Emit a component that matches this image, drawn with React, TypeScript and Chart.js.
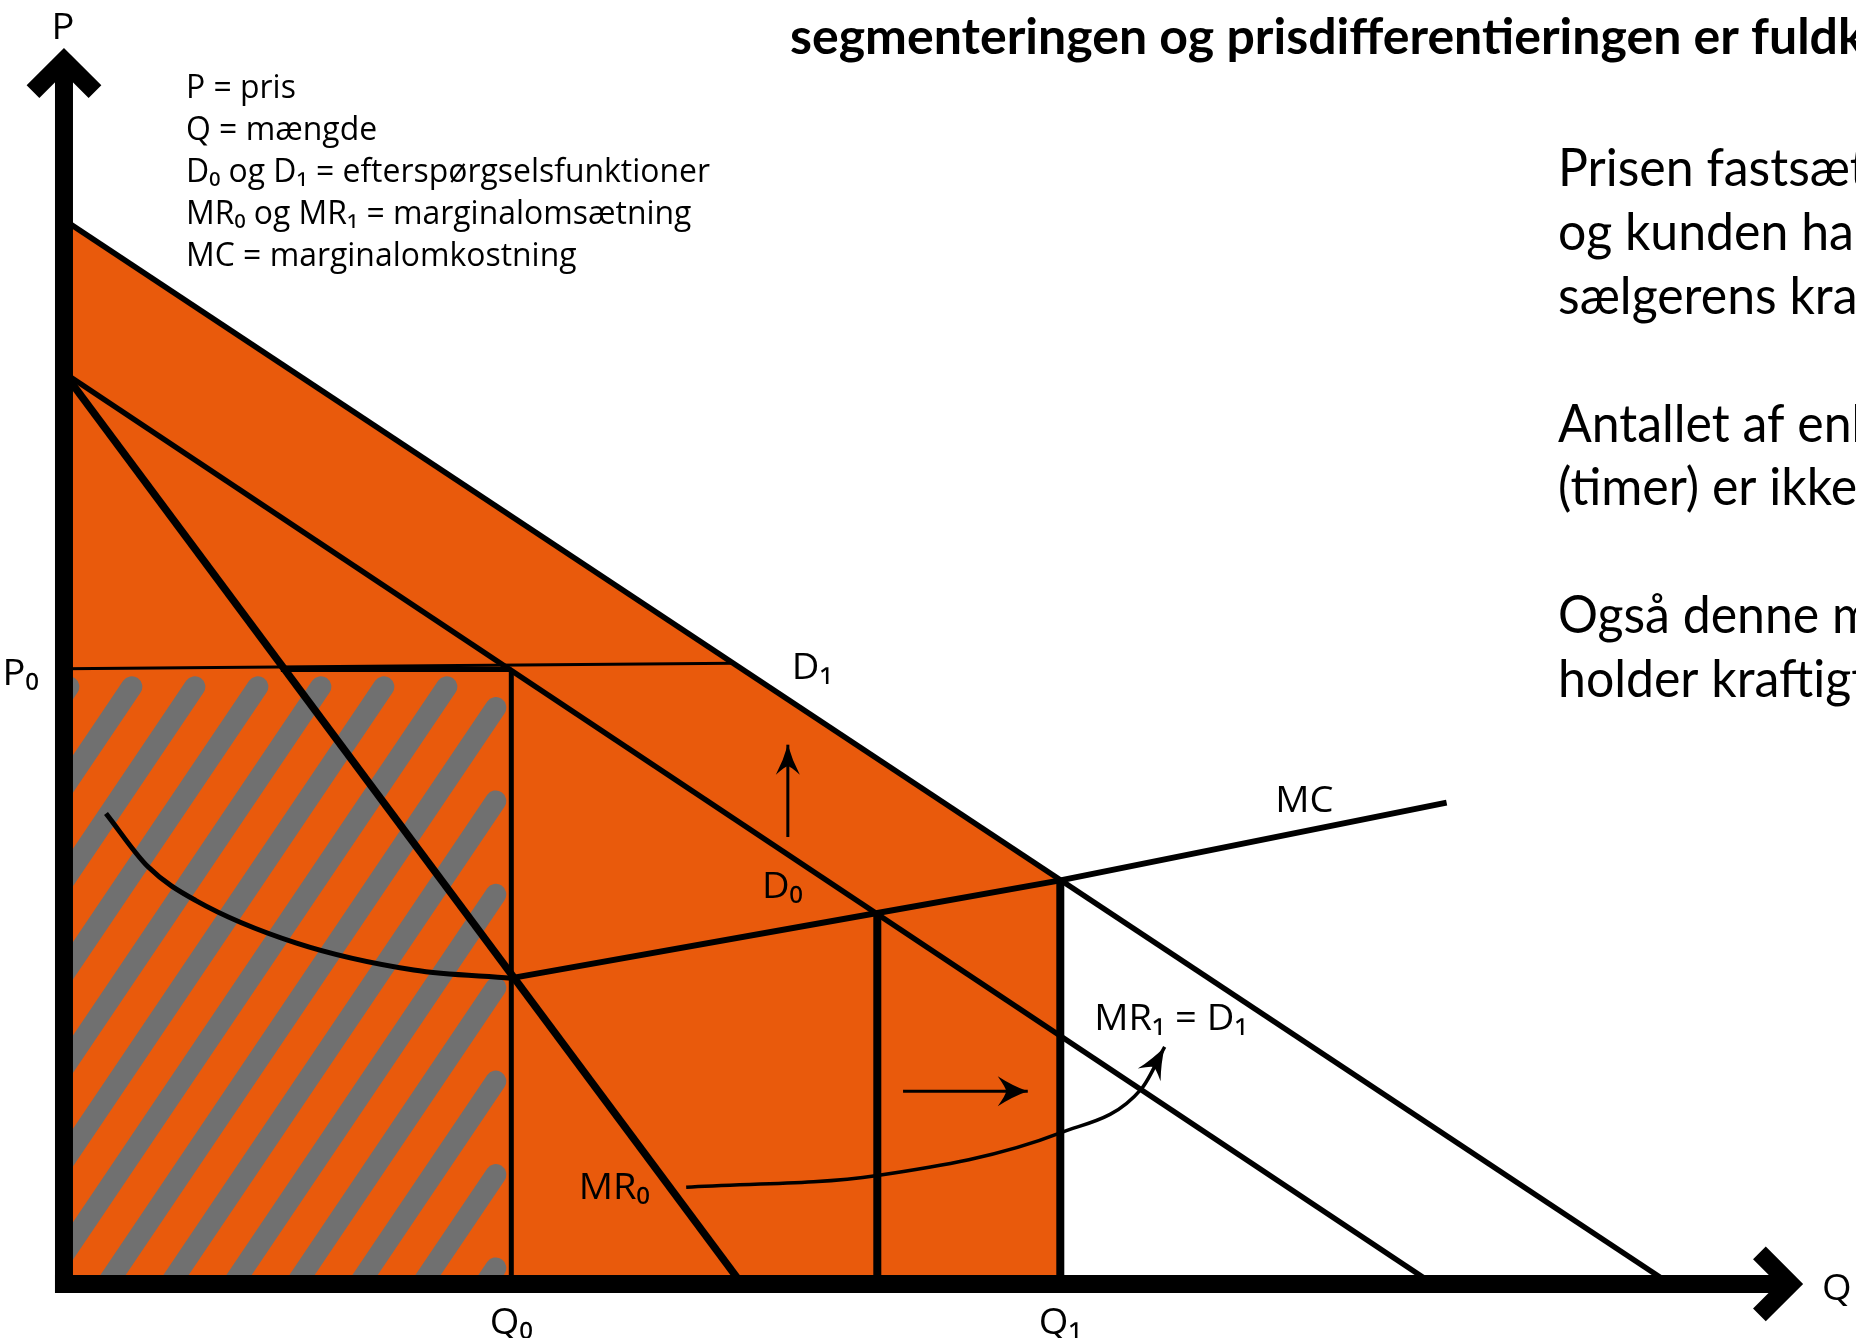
import React, { useEffect, useRef } from "react";
import { Chart, registerables } from "chart.js";

Chart.register(...registerables);

const WIDTH = 1856;
const HEIGHT = 1338;

// ---- scale ranges (quantity Q on x, price P on y) ----
const Q_MIN = -4.72;
const Q_MAX = 132.2;
const P_MIN = -5.97;
const P_MAX = 141.9;
const Q_AXIS_END = 128.3;
const P_AXIS_END = 136.6;

// ---- curves ----
const D1_Q = [0, 118.5];
const D1_P = [117.6, 0];
const D0_Q = [0, 101];
const D0_P = [100.7, 0];
const MR0_Q = [0, 50];
const MR0_P = [100.7, 0];
const MC_CURVE_Q = [3.1, 6.2, 9.7, 17.1, 25.8, 33];
const MC_CURVE_P = [52.0, 46.1, 42.4, 37.7, 34.7, 33.8];
const MC_LINE_Q = [33, 60, 73.5, 102];
const MC_LINE_P = [33.8, 41.0, 44.6, 53.2];

// ---- key quantities / prices ----
const Q0 = 33;
const QM = 60;
const Q1 = 73.5;
const VERT_TOP = [67.8, 41.0, 44.6];
const P0_THIN_Q = [0, 49.4];
const P0_THIN_P = [68.0, 68.6];
const P0_THICK_Q = [16, 33];
const P0_THICK_P = [67.9, 67.9];
const AREA_Q = [0, 73.5];
const AREA_P = [117.6, 44.6];
const HATCH_Q = [0, 33];
const HATCH_P = [0, 67.5];

// ---- arrows ----
const UP_ARROW_Q = [53.4, 53.4];
const UP_ARROW_P = [49.4, 59.6];
const RIGHT_ARROW_Q = [61.9, 71.1];
const RIGHT_ARROW_P = [21.3, 21.3];
const CURVE_ARROW_Q = [45.9, 60, 73.5, 79.5, 81.2];
const CURVE_ARROW_P = [10.7, 12.0, 16.7, 21.6, 26.2];

// ---- labels ----
const LABEL_TEXT = ["P", "Q", "P₀", "D₁", "D₀", "MC", "MR₁ = D₁", "MR₀", "Q₀", "Q₁"];
const LABEL_Q = [-0.07, 129.7, -3.2, 55.2, 53.0, 91.5, 76.0, 40.6, 33, 73.5];
const LABEL_P = [139.1, -0.33, 67.7, 68.3, 44.1, 53.6, 29.5, 10.8, -4.1, -4.1];
const LABEL_ALIGN = ["center", "left", "center", "center", "center", "center", "left", "center", "center", "center"];

const LEGEND_LINES = [
  "P = pris",
  "Q = mængde",
  "D₀ og D₁ = efterspørgselsfunktioner",
  "MR₀ og MR₁ = marginalomsætning",
  "MC = marginalomkostning",
];
const LEGEND_BASELINES = [98, 140, 182, 224, 266];
const NOTE_LINES = [
  "Prisen fastsættes",
  "og kunden har ikke",
  "sælgerens krav",
  "Antallet af enheder",
  "(timer) er ikke",
  "Også denne model",
  "holder kraftigt",
];
const NOTE_BASELINES = [186, 250, 314, 442, 505, 633, 697];
const TITLE = "segmenteringen og prisdifferentieringen er fuldkommen";

const ORANGE = "#E95A0C";
const GRAY = "#707070";

const pts = (qs: number[], ps: number[]) => qs.map((q, i) => ({ x: q, y: ps[i] }));

function lineDs(label: string, qs: number[], ps: number[], width: number, extra: any = {}) {
  return {
    label,
    data: pts(qs, ps),
    borderColor: "#000",
    backgroundColor: "#000",
    borderWidth: width,
    pointRadius: 0,
    fill: false,
    tension: 0,
    borderCapStyle: "butt",
    borderJoinStyle: "round",
    ...extra,
  };
}

const datasets: any[] = [
  lineDs("curveArrow", CURVE_ARROW_Q, CURVE_ARROW_P, 3.5, { cubicInterpolationMode: "monotone" }),
  lineDs("rightArrow", RIGHT_ARROW_Q, RIGHT_ARROW_P, 3),
  lineDs("upArrow", UP_ARROW_Q, UP_ARROW_P, 3),
  lineDs("MC", MC_LINE_Q, MC_LINE_P, 6),
  lineDs("MCcurve", MC_CURVE_Q, MC_CURVE_P, 5, { cubicInterpolationMode: "monotone" }),
  lineDs("Q1", [Q1, Q1], [0, VERT_TOP[2]], 8),
  lineDs("QM", [QM, QM], [0, VERT_TOP[1]], 8),
  lineDs("Q0", [Q0, Q0], [0, VERT_TOP[0]], 5),
  lineDs("P0thick", P0_THICK_Q, P0_THICK_P, 5),
  lineDs("P0thin", P0_THIN_Q, P0_THIN_P, 3),
  lineDs("MR0", MR0_Q, MR0_P, 7.5),
  lineDs("D0", D0_Q, D0_P, 5.5),
  lineDs("D1", D1_Q, D1_P, 5.5),
  {
    label: "area",
    data: pts(AREA_Q, AREA_P),
    borderColor: "rgba(0,0,0,0)",
    borderWidth: 1,
    backgroundColor: ORANGE,
    pointRadius: 0,
    fill: "origin",
    tension: 0,
  },
];
const AREA_INDEX = datasets.length - 1;

function arrowHead(ctx: CanvasRenderingContext2D, tx: number, ty: number, ang: number, len: number, half: number) {
  const cx = Math.cos(ang), cy = Math.sin(ang);
  const px = -cy, py = cx;
  const bx = tx - cx * len, by = ty - cy * len;
  const nx = tx - cx * len * 0.72, ny = ty - cy * len * 0.72;
  const mx = tx - cx * len * 0.5, my = ty - cy * len * 0.5;
  ctx.beginPath();
  ctx.moveTo(tx, ty);
  ctx.quadraticCurveTo(mx + px * half * 0.35, my + py * half * 0.35, bx + px * half, by + py * half);
  ctx.quadraticCurveTo(nx + px * half * 0.2, ny + py * half * 0.2, nx, ny);
  ctx.quadraticCurveTo(nx - px * half * 0.2, ny - py * half * 0.2, bx - px * half, by - py * half);
  ctx.quadraticCurveTo(mx - px * half * 0.35, my - py * half * 0.35, tx, ty);
  ctx.closePath();
  ctx.fillStyle = "#000";
  ctx.fill();
}

const hatchPlugin = {
  id: "hatch",
  afterDatasetDraw(chart: any, args: any) {
    if (args.index !== AREA_INDEX) return;
    const { ctx, scales } = chart;
    const x = scales.x, y = scales.y;
    const left = x.getPixelForValue(HATCH_Q[0]);
    const right = x.getPixelForValue(HATCH_Q[1]) - 3;
    const top = y.getPixelForValue(HATCH_P[1]);
    const bottom = y.getPixelForValue(HATCH_P[0]);
    const ang = (56 * Math.PI) / 180;
    const c = Math.cos(ang), s = Math.sin(ang);
    const period = 63;
    const lw = 21;
    const r = lw / 2;
    const endTop = top + 3 + r;
    const endRight = right - 2 - r;
    ctx.save();
    ctx.beginPath();
    ctx.rect(left, top, right - left, bottom - top);
    ctx.clip();
    ctx.strokeStyle = GRAY;
    ctx.lineWidth = lw;
    ctx.lineCap = "round";
    const span = (bottom - top) / Math.tan(ang);
    const phase = 43;
    let x0 = left + phase - Math.ceil((span + 100) / period) * period;
    for (; x0 < right + period; x0 += period) {
      const tTop = (bottom - endTop) / s;
      const tRight = (endRight - x0) / c;
      const tEnd = Math.min(tTop, tRight);
      const tStart = -40;
      if (tEnd <= tStart) continue;
      ctx.beginPath();
      ctx.moveTo(x0 + tStart * c, bottom - tStart * s);
      ctx.lineTo(x0 + tEnd * c, bottom - tEnd * s);
      ctx.stroke();
    }
    ctx.restore();
  },
};

function drawChevron(ctx: CanvasRenderingContext2D, ax: number, ay: number, dirX: number, dirY: number, d: number) {
  const px = -dirY, py = dirX;
  ctx.beginPath();
  ctx.moveTo(ax - dirX * d + px * d, ay - dirY * d + py * d);
  ctx.lineTo(ax, ay);
  ctx.lineTo(ax - dirX * d - px * d, ay - dirY * d - py * d);
  ctx.stroke();
}

const axesPlugin = {
  id: "axesArrows",
  afterDatasetsDraw(chart: any) {
    const { ctx, scales } = chart;
    const x = scales.x, y = scales.y;
    const ox = x.getPixelForValue(0);
    const oy = y.getPixelForValue(0);
    const yTip = y.getPixelForValue(P_AXIS_END);
    const xTip = x.getPixelForValue(Q_AXIS_END);
    const w = 18;
    const inset = (w / 2) * Math.SQRT2;
    ctx.save();
    ctx.strokeStyle = "#000";
    ctx.lineWidth = w;
    ctx.lineCap = "butt";
    ctx.lineJoin = "miter";
    ctx.beginPath();
    ctx.moveTo(ox, oy + w / 2);
    ctx.lineTo(ox, yTip + inset);
    ctx.stroke();
    ctx.beginPath();
    ctx.moveTo(ox - w / 2, oy);
    ctx.lineTo(xTip - inset, oy);
    ctx.stroke();
    drawChevron(ctx, ox, yTip + inset, 0, -1, 31);
    drawChevron(ctx, xTip - inset, oy, 1, 0, 31);

    const upTip = { x: x.getPixelForValue(UP_ARROW_Q[1]), y: y.getPixelForValue(UP_ARROW_P[1]) };
    arrowHead(ctx, upTip.x, upTip.y, -Math.PI / 2, 30, 12);
    const rTip = { x: x.getPixelForValue(RIGHT_ARROW_Q[1]), y: y.getPixelForValue(RIGHT_ARROW_P[1]) };
    arrowHead(ctx, rTip.x, rTip.y, 0, 30, 15);
    const meta = chart.getDatasetMeta(0);
    const last = meta.data[meta.data.length - 1];
    const prev = meta.data[meta.data.length - 2];
    let ang = Math.atan2(last.y - prev.y, last.x - prev.x);
    if (last.cp1x !== undefined && (last.cp1x !== last.x || last.cp1y !== last.y)) {
      ang = Math.atan2(last.y - last.cp1y, last.x - last.cp1x);
    }
    arrowHead(ctx, last.x, last.y, ang, 32, 13);
    ctx.restore();
  },
};

function measure(ctx: CanvasRenderingContext2D, text: string, font: string) {
  ctx.save();
  ctx.font = font;
  const w = ctx.measureText(text).width;
  ctx.restore();
  return w;
}

function drawText(ctx: CanvasRenderingContext2D, text: string, x: number, y: number, font: string, sx: number, align: string) {
  ctx.save();
  ctx.font = font;
  ctx.textBaseline = "alphabetic";
  ctx.textAlign = "left";
  ctx.fillStyle = "#000";
  const w = ctx.measureText(text).width * sx;
  const x0 = align === "center" ? x - w / 2 : x;
  ctx.translate(x0, y);
  ctx.scale(sx, 1);
  ctx.fillText(text, 0, 0);
  ctx.restore();
}

const textPlugin = {
  id: "texts",
  afterDraw(chart: any) {
    const { ctx, scales } = chart;
    const x = scales.x, y = scales.y;
    const legendFont = '32px "Open Sans"';
    const sxLegend = 524 / measure(ctx, LEGEND_LINES[2], legendFont);
    LEGEND_LINES.forEach((t, i) => drawText(ctx, t, 186, LEGEND_BASELINES[i], legendFont, sxLegend, "left"));

    const labelSize = 37;
    const labelFont = `${labelSize}px "Open Sans"`;
    const sxLabel = 524 / measure(ctx, LEGEND_LINES[2], '31px "Open Sans"');
    LABEL_TEXT.forEach((t, i) => {
      const px = x.getPixelForValue(LABEL_Q[i]);
      const py = y.getPixelForValue(LABEL_P[i]) + labelSize * 0.357;
      drawText(ctx, t, px, py, labelFont, sxLabel, LABEL_ALIGN[i]);
    });

    const noteFont = "52px Lato";
    const sxNote = 292 / measure(ctx, "Prisen fastsæ", noteFont);
    NOTE_LINES.forEach((t, i) => drawText(ctx, t, 1558, NOTE_BASELINES[i], noteFont, sxNote, "left"));

    const titleFont = "bold 49px Lato";
    const sxTitle = 1048 / measure(ctx, "segmenteringen og prisdifferentieringen er fuld", titleFont);
    drawText(ctx, TITLE, 790, 54, titleFont, sxTitle, "left");
  },
};

export default function App() {
  const ref = useRef<HTMLCanvasElement>(null);
  useEffect(() => {
    document.body.style.margin = "0";
    document.body.style.overflow = "hidden";
    const canvas = ref.current as HTMLCanvasElement;
    const chart = new Chart(canvas, {
      type: "line",
      data: { datasets },
      options: {
        animation: false,
        responsive: false,
        devicePixelRatio: 1,
        events: [],
        layout: { padding: 0 },
        plugins: { legend: { display: false }, tooltip: { enabled: false } },
        scales: {
          x: { type: "linear", min: Q_MIN, max: Q_MAX, display: false },
          y: { type: "linear", min: P_MIN, max: P_MAX, display: false },
        },
      },
      plugins: [hatchPlugin, axesPlugin, textPlugin],
    } as any);
    return () => chart.destroy();
  }, []);
  return (
    <div style={{ position: "absolute", left: 0, top: 0, width: WIDTH, height: HEIGHT, background: "#fff" }}>
      <canvas ref={ref} width={WIDTH} height={HEIGHT} style={{ display: "block", width: WIDTH, height: HEIGHT }} />
    </div>
  );
}
